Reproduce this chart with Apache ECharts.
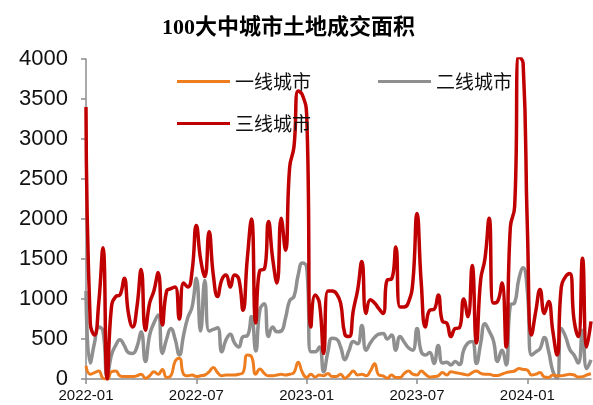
<!DOCTYPE html>
<html>
<head>
<meta charset="utf-8">
<script src="https://cdn.jsdelivr.net/npm/echarts@6/dist/echarts.min.js"></script>
<style>
html,body{margin:0;padding:0;background:#fff;}
#main{width:593px;height:405px;}
</style>
</head>
<body>
<div id="main"></div>
<script>
// 周度数据，起始于2022-01的第一周
var startDate = new Date(2022, 0, 2);
var tickIndex = [0, 26, 52, 78, 104];
var tickLabels = ['2022-01', '2022-07', '2023-01', '2023-07', '2024-01'];

var tier1 = [165,60,80,100,10,0,90,100,40,30, 30,30,40,60,10,40,90,60,120,20,
	40,220,260,60,40,50,30,40,50,90, 145,80,40,50,50,50,60,80,300,280,
	60,125,70,40,40,50,60,50,60,80, 210,80,20,60,25,50,40,70,30,30,
	60,10,50,100,50,60,40,100,190,50, 40,10,50,20,20,70,100,60,50,100,
	60,25,30,40,80,50,90,80,70,60, 50,80,100,70,60,60,45,45,60,80,
	90,100,130,120,110,50,60,80,25,20, 50,40,40,50,60,50,25,30,50,65];

var tier2 = [1100,200,450,650,600,30,300,420,490,420, 330,320,400,590,220,550,700,800,320,500,
	630,500,300,550,770,900,1260,600,1230,600, 620,640,340,490,560,450,400,530,540,780,
	350,870,940,530,650,590,600,760,980,1030, 1300,1450,1400,340,340,400,90,340,510,500,
	400,240,360,470,440,670,360,450,520,560, 570,500,550,360,530,460,390,360,630,340,
	300,330,195,420,200,210,175,220,180,360, 450,470,195,445,690,600,480,220,360,175,
	925,950,1250,1390,1100,300,340,380,520,350, 100,10,630,530,370,300,200,610,130,240];

var tier3 = [3400,700,550,950,1640,0,900,1030,1050,1260, 820,650,900,1370,610,950,1100,1330,675,1100,
	1130,1150,750,1200,1150,1350,1920,1500,1280,1840, 1300,1030,1240,1300,1150,1300,1250,860,1500,2000,
	700,1360,1370,1970,1500,1200,2010,1610,2650,2900, 3600,3550,3300,650,1050,950,320,1100,1100,1070,
	950,560,530,860,1110,1470,820,990,950,880, 820,1240,1250,1650,900,900,960,1200,2070,1200,
	650,860,870,1050,720,700,530,630,640,1000, 780,1420,450,1240,1500,2010,950,970,1200,400,
	1900,2150,4030,3950,1900,550,850,1120,820,970, 600,300,1150,1280,1320,740,530,1510,400,720];

var categories = [];
for (var i = 0; i < tier3.length; i++) {
	var d = new Date(startDate.getTime() + i * 7 * 86400000);
	var m = d.getMonth() + 1;
	categories.push(d.getFullYear() + '-' + (m < 10 ? '0' + m : m) + '-' + d.getDate());
}

function showTick(index){
	return tickIndex.indexOf(index) >= 0;
}

function legendItem(name, left, top){
	return {
		data : [name],
		left : left,
		top : top,
		icon : 'rect',
		itemWidth : 53,
		itemHeight : 3,
		itemGap : 6,
		textStyle : {
			fontFamily : 'Noto Sans CJK SC',
			fontSize : 19,
			color : '#111'
		}
	};
}

var myChart = echarts.init(document.getElementById('main'));
var option = {
	animation : false,
	backgroundColor : '#fff',
	title : {
		text : '100大中城市土地成交面积',
		left : 157,
		top : 12,
		textStyle : {
			fontFamily : "'Liberation Serif', 'Noto Sans CJK SC'",
			fontSize : 22,
			fontWeight : 'bold',
			color : '#000'
		}
	},
	legend : [
		legendItem('一线城市', 172, 67),
		legendItem('二线城市', 373, 67),
		legendItem('三线城市', 172, 109)
	],
	grid : {
		left : 86,
		right : 2,
		top : 59,
		bottom : 26
	},
	xAxis : {
		type : 'category',
		boundaryGap : false,
		data : categories,
		axisLine : { lineStyle : { color : '#8c8c8c', width : 1.5 } },
		axisTick : {
			interval : showTick,
			length : 5,
			lineStyle : { color : '#8c8c8c', width : 1.5 }
		},
		axisLabel : {
			interval : showTick,
			margin : 9,
			fontFamily : 'Liberation Sans',
			fontSize : 15,
			color : '#111',
			formatter : function(value, index){
				return tickLabels[tickIndex.indexOf(index)];
			}
		},
		splitLine : { show : false }
	},
	yAxis : {
		type : 'value',
		min : 0,
		max : 4000,
		interval : 500,
		axisLine : { show : true, lineStyle : { color : '#8c8c8c', width : 1.5 } },
		axisTick : { show : true, length : 5, lineStyle : { color : '#8c8c8c', width : 1.5 } },
		axisLabel : {
			margin : 18,
			fontFamily : 'Liberation Sans',
			fontSize : 22,
			color : '#111',
			formatter : function(v){ return String(v); }
		},
		splitLine : { show : false }
	},
	series : [ {
		name : '二线城市',
		type : 'line',
		data : tier2,
		smooth : 0.5,
		symbol : 'none',
		itemStyle : { color : '#8f8f8f' },
		lineStyle : { color : '#8f8f8f', width : 3.5 }
	}, {
		name : '一线城市',
		type : 'line',
		data : tier1,
		smooth : 0.5,
		symbol : 'none',
		itemStyle : { color : '#ed7d1f' },
		lineStyle : { color : '#ed7d1f', width : 3 }
	}, {
		name : '三线城市',
		type : 'line',
		data : tier3,
		smooth : 0.5,
		symbol : 'none',
		itemStyle : { color : '#c00000' },
		lineStyle : { color : '#c00000', width : 3.5 }
	} ]
};
myChart.setOption(option);
</script>
</body>
</html>
